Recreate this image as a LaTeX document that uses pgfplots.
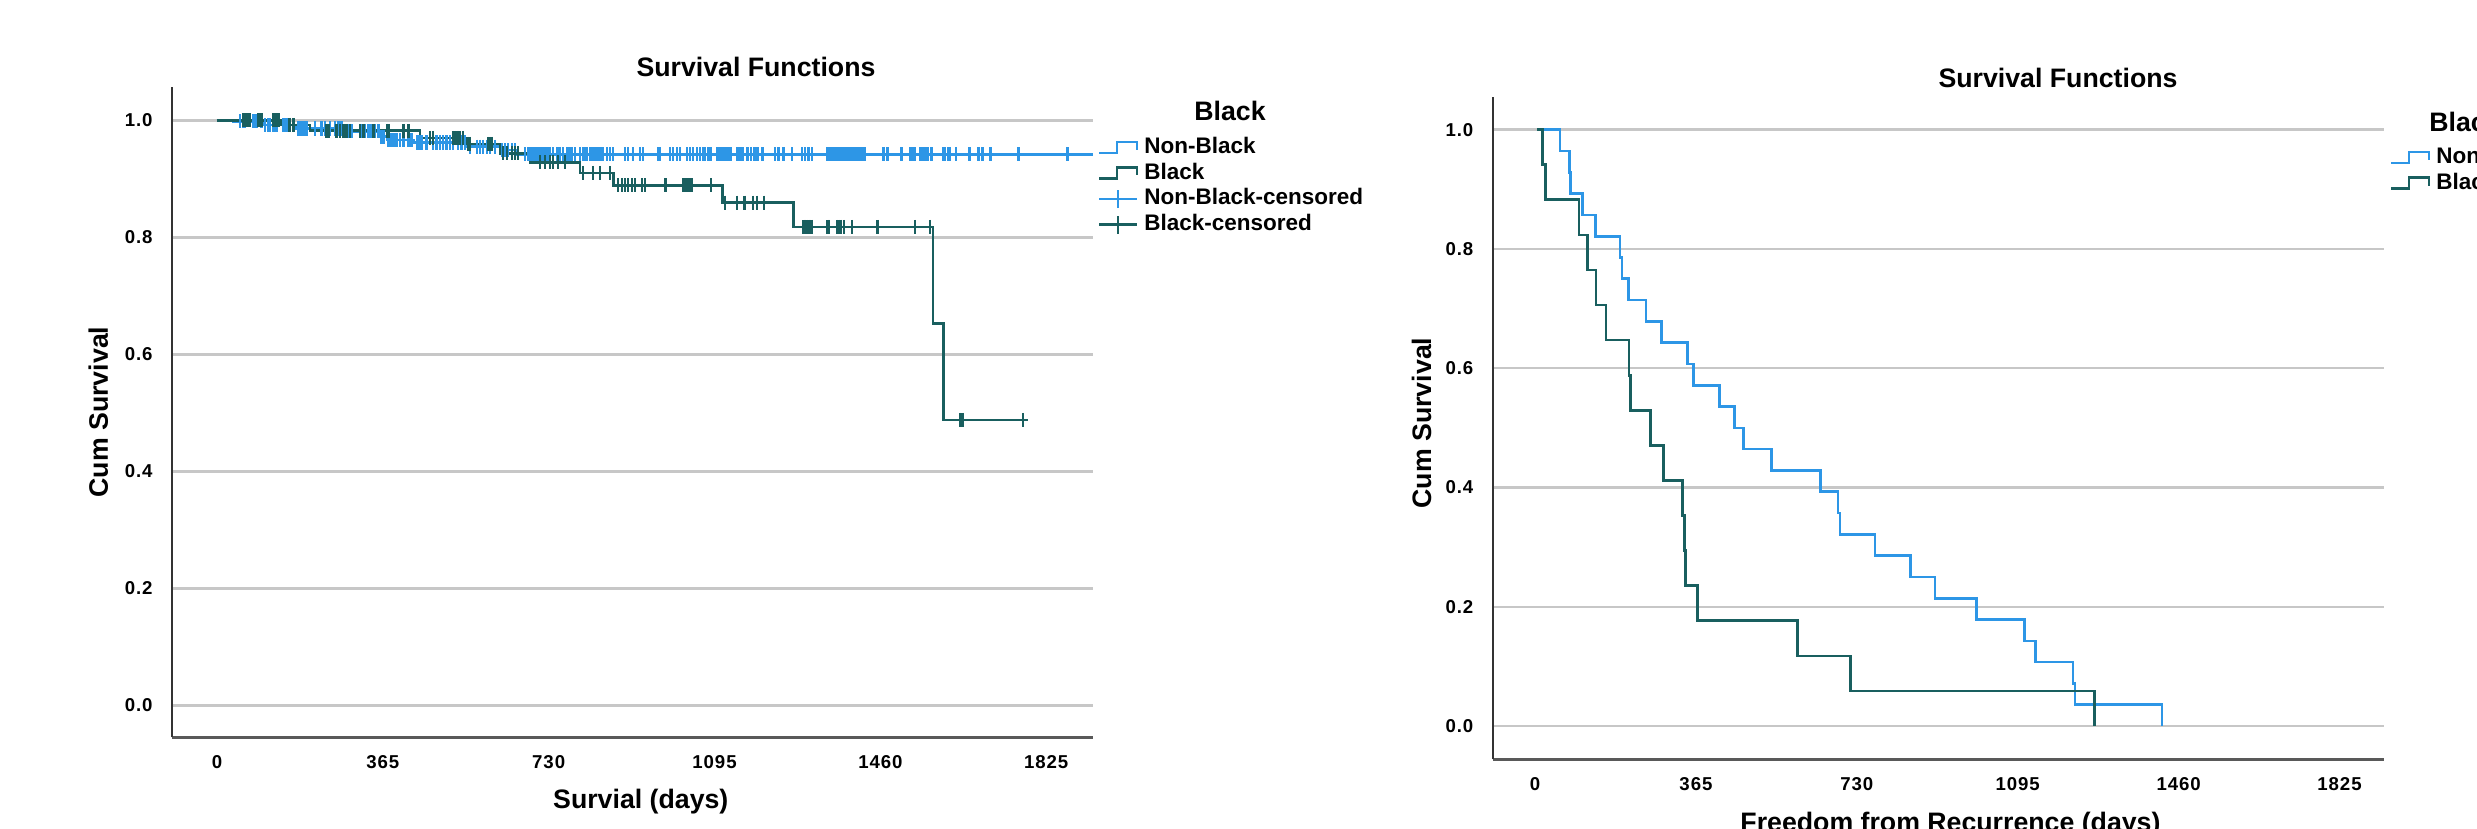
\documentclass[border=0pt]{standalone}
\usepackage{fontspec}
\setmainfont{Liberation Sans}
\newfontfamily\tickfont[LetterSpace=5]{Liberation Sans}
\usepackage{pgfplots}
\pgfplotsset{compat=1.18}
\definecolor{nbblue}{RGB}{45,150,230}
\definecolor{bteal}{RGB}{25,95,95}

\pgfplotsset{
  spssaxis/.style={
    scale only axis,
    axis x line*=bottom, axis y line*=left,
    x axis line style={draw=black!65, line width=1pt},
    y axis line style={draw=black!80, line width=0.6pt},
    major tick length=0pt,
    xtick={0,365,730,1095,1460,1825},
    xticklabels={0,365,730,1095,1460,1825},
    ytick={0,0.2,0.4,0.6,0.8,1},
    yticklabels={0.0,0.2,0.4,0.6,0.8,1.0},
    ymajorgrids, grid style={draw=black!22, line width=0.7pt},
    tick label style={font=\tickfont\bfseries\fontsize{5.3}{6}\selectfont},
    yticklabel style={xshift=-0.07cm},
    xticklabel style={yshift=-0.06cm},
    label style={font=\bfseries\fontsize{7.6}{9}\selectfont},
    legend style={draw=none, fill=none, inner sep=0pt, anchor=north west,
      font=\bfseries\fontsize{6.4}{7.5}\selectfont, row sep=0.05cm, column sep=0.06cm,
      nodes={inner sep=0pt, text height=0.16cm, text depth=0.045cm}},
    legend cell align=left,
  },
  kmline/.style={const plot, no marks, line width=0.75pt, color=#1,
    legend image code/.code={\draw[color=#1, line width=0.75pt] (0cm,-0.05cm) -- (0.18cm,-0.05cm) -- (0.18cm,0.06cm) -- (0.38cm,0.06cm) -- (0.38cm,-0.02cm);}},
  kmcens/.style={only marks, mark=|, mark size=2pt, color=#1, mark options={line width=0.7pt},
    legend image code/.code={\draw[color=#1, line width=0.75pt] (0cm,0cm) -- (0.38cm,0cm) (0.19cm,-0.09cm) -- (0.19cm,0.09cm);}},
}

\begin{document}
\begin{tikzpicture}
\useasboundingbox (0,0) rectangle (24.77,-8.28);
\clip (0,0) rectangle (24.77,-8.28);

% left chart: overall survival
\begin{axis}[spssaxis, at={(1.72cm,-7.373cm)}, anchor=south west,
  width=9.21cm, height=6.506cm,
  xmin=-99, xmax=1928, ymin=-0.0547, ymax=1.0574,
  xlabel={Survial (days)}, ylabel={Cum Survival},
  xlabel style={at={(axis description cs:0.509,-0.0995)}, anchor=center},
  ylabel style={at={(axis description cs:-0.080,0.5)}, anchor=center},
  legend style={at={(1.0043,0.9227)}}]
\addplot[kmline=nbblue] coordinates {(0,1) (35,0.998) (100,0.992) (173,0.986) (276,0.981) (357,0.972) (375,0.966) (432,0.962) (550,0.955) (623,0.949) (660,0.942) (1928,0.942)};
\addlegendentry{Non-Black}
\addplot[kmline=bteal] coordinates {(0,1) (142,0.992) (205,0.982) (447,0.970) (550,0.9595) (623,0.9436) (689,0.928) (799,0.910) (872,0.889) (1113,0.859) (1269,0.8177) (1576,0.653) (1599,0.4877) (1786,0.4877)};
\addlegendentry{Black}
\addplot[kmcens=nbblue] coordinates {
 (51,0.998) (58,0.998) (62,0.998) (80,0.998) (87,0.998) (98,0.998)
 (106,0.992) (113,0.992) (117,0.992) (124,0.992) (131,0.992) (146,0.992) (153,0.992)
 (179,0.986) (183,0.986) (186,0.986) (190,0.986) (194,0.986) (197,0.986) (216,0.986) (230,0.986) (238,0.986) (249,0.986) (260,0.986) (267,0.986) (271,0.986) (274,0.986)
 (285,0.981) (289,0.981) (296,0.981) (318,0.981) (326,0.981) (333,0.981) (340,0.981) (348,0.981) (355,0.981)
 (362,0.972) (366,0.972)
 (377,0.966) (381,0.966) (384,0.966) (388,0.966) (395,0.966) (403,0.966) (410,0.966) (421,0.966) (428,0.966)
 (440,0.962) (443,0.962) (450,0.962) (461,0.962) (476,0.962) (483,0.962) (491,0.962) (498,0.962) (505,0.962) (513,0.962) (520,0.962) (531,0.962) (538,0.962) (546,0.962)
 (557,0.955) (572,0.955) (579,0.955) (586,0.955) (594,0.955) (601,0.955) (612,0.955)
 (627,0.949) (634,0.949) (641,0.949) (649,0.949) (656,0.949)
 (678,0.942) (685,0.942) (689,0.942) (693,0.942) (696,0.942) (700,0.942) (704,0.942) (707,0.942) (711,0.942) (715,0.942) (718,0.942) (722,0.942) (726,0.942) (729,0.942) (733,0.942) (740,0.942) (748,0.942) (751,0.942) (755,0.942) (762,0.942) (770,0.942) (773,0.942) (777,0.942) (781,0.942) (788,0.942) (799,0.942) (806,0.942) (810,0.942) (814,0.942) (821,0.942) (825,0.942) (828,0.942) (832,0.942) (836,0.942) (839,0.942) (843,0.942) (847,0.942) (850,0.942) (858,0.942) (865,0.942) (872,0.942) (898,0.942) (905,0.942) (916,0.942) (931,0.942) (938,0.942) (971,0.942) (975,0.942) (997,0.942) (1004,0.942) (1012,0.942) (1019,0.942) (1034,0.942) (1041,0.942) (1048,0.942) (1056,0.942)
 (1063,0.942) (1071,0.942) (1074,0.942) (1082,0.942) (1087,0.942) (1102,0.942) (1106,0.942) (1109,0.942) (1113,0.942) (1117,0.942) (1120,0.942) (1124,0.942) (1128,0.942) (1131,0.942) (1146,0.942) (1150,0.942) (1153,0.942) (1157,0.942) (1168,0.942) (1175,0.942) (1183,0.942) (1190,0.942) (1201,0.942) (1228,0.942) (1236,0.942) (1247,0.942) (1265,0.942) (1287,0.942) (1294,0.942) (1302,0.942) (1309,0.942) (1344,0.942) (1348,0.942) (1352,0.942) (1357,0.942) (1363,0.942) (1368,0.942) (1374,0.942) (1379,0.942) (1385,0.942) (1392,0.942) (1397,0.942) (1403,0.942) (1408,0.942) (1414,0.942) (1419,0.942) (1425,0.942) (1467,0.942) (1476,0.942) (1507,0.942) (1525,0.942) (1529,0.942) (1533,0.942) (1536,0.942) (1547,0.942) (1551,0.942) (1555,0.942) (1558,0.942) (1564,0.942) (1573,0.942) (1599,0.942) (1602,0.942) (1610,0.942) (1613,0.942) (1627,0.942) (1656,0.942) (1676,0.942) (1685,0.942) (1702,0.942) (1764,0.942) (1872,0.942)
};
\addlegendentry{Non-Black-censored}
\addplot[kmcens=bteal] coordinates {
 (58,1) (62,1) (65,1) (69,1) (73,1) (91,1) (95,1) (98,1) (124,1) (128,1) (131,1) (135,1)
 (160,0.992) (168,0.992)
 (241,0.982) (245,0.982) (263,0.982) (271,0.982) (278,0.982) (285,0.982) (293,0.982) (315,0.982) (322,0.982) (344,0.982) (374,0.982) (377,0.982) (410,0.982) (421,0.982)
 (469,0.970) (476,0.970) (520,0.970) (524,0.970) (528,0.970) (531,0.970) (535,0.970) (542,0.970)
 (553,0.9595) (557,0.9595) (597,0.9595) (601,0.9595) (605,0.9595)
 (630,0.9436) (638,0.9436) (649,0.9436) (656,0.9436) (663,0.9436)
 (711,0.928) (722,0.928) (733,0.928) (740,0.928) (751,0.928) (766,0.928)
 (806,0.910) (828,0.910) (843,0.910) (865,0.910)
 (883,0.889) (891,0.889) (898,0.889) (905,0.889) (913,0.889) (920,0.889) (935,0.889) (942,0.889) (987,0.889) (1026,0.889) (1030,0.889) (1034,0.889) (1037,0.889) (1041,0.889) (1045,0.889) (1087,0.889)
 (1118,0.859) (1145,0.859) (1161,0.859) (1180,0.859) (1188,0.859) (1204,0.859)
 (1291,0.8177) (1294,0.8177) (1298,0.8177) (1302,0.8177) (1305,0.8177) (1310,0.8177) (1344,0.8177) (1347,0.8177) (1364,0.8177) (1368,0.8177) (1373,0.8177) (1380,0.8177) (1397,0.8177) (1454,0.8177) (1536,0.8177) (1569,0.8177)
 (1635,0.4877) (1641,0.4877) (1774,0.4877)
};
\addlegendentry{Black-censored}
\end{axis}

% right chart: freedom from recurrence
\begin{axis}[spssaxis, at={(14.927cm,-7.593cm)}, anchor=south west,
  width=8.913cm, height=6.626cm,
  xmin=-96, xmax=1926, ymin=-0.0558, ymax=1.0553,
  xlabel={Freedom from Recurrence (days)}, ylabel={Cum Survival},
  xlabel style={at={(axis description cs:0.5136,-0.0992)}, anchor=center},
  ylabel style={at={(axis description cs:-0.0797,0.5075)}, anchor=center},
  legend style={at={(1.0056,0.924)}}]
\addplot[kmline=nbblue] coordinates {(5,1) (57,0.9643) (78,0.9286) (81,0.8929) (107,0.8571) (137,0.8214) (193,0.7857) (197,0.75) (212,0.7143) (252,0.6786) (287,0.6429) (346,0.6071) (359,0.5714) (418,0.5357) (452,0.5) (473,0.4643) (537,0.4286) (647,0.3929) (687,0.3571) (692,0.3214) (771,0.2857) (852,0.25) (907,0.2143) (1002,0.1786) (1110,0.1429) (1135,0.1071) (1220,0.0714) (1225,0.0357) (1422,0)};
\addlegendentry{Non-Black}
\addplot[kmline=bteal] coordinates {(5,1) (17,0.9412) (24,0.8824) (100,0.8235) (119,0.7647) (138,0.7059) (161,0.6471) (213,0.5882) (216,0.5294) (262,0.4706) (291,0.4118) (334,0.3529) (339,0.2941) (341,0.2353) (368,0.1765) (595,0.1176) (716,0.0588) (1269,0)};
\addlegendentry{Black}
\end{axis}

\node[font=\bfseries\fontsize{7.6}{9}\selectfont] at (7.56,-0.67) {Survival Functions};
\node[font=\bfseries\fontsize{7.6}{9}\selectfont] at (20.58,-0.78) {Survival Functions};
\node[font=\bfseries\fontsize{7.6}{9}\selectfont] at (12.30,-1.11) {Black};
\node[font=\bfseries\fontsize{7.6}{9}\selectfont] at (24.65,-1.22) {Black};
\end{tikzpicture}
\end{document}
